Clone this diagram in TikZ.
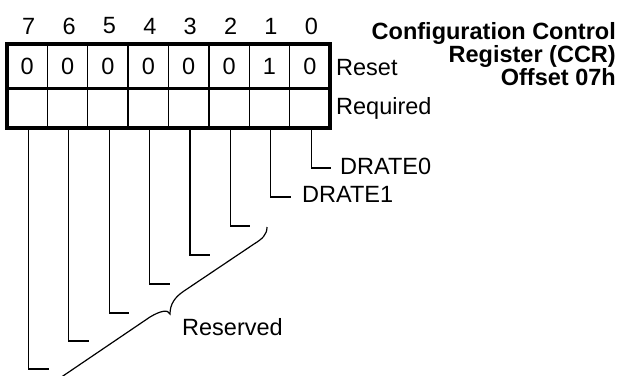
\documentclass[tikz,border=0pt]{standalone}
\usepackage{fontspec}
\setmainfont{Liberation Sans}
\begin{document}
\begin{tikzpicture}[x=1pt,y=-1pt,
  txt/.style={font=\fontsize{23.5}{26}\selectfont, inner sep=0pt},
  ttl/.style={font=\fontsize{23.5}{21.5}\bfseries\selectfont, inner sep=0pt, align=right},
  thickline/.style={line width=4pt},
  midline/.style={line width=3pt},
  thinline/.style={line width=1.4pt},
  leader/.style={line width=1.2pt},
  bracepath/.style={line width=1.2pt}]
\useasboundingbox (0,0) rectangle (621,375);
% cell dividers
\foreach \k in {1,...,7} {
  \coordinate (dt\k) at ({7+40.375*\k},44);
  \coordinate (db\k) at ({7+40.375*\k},128);
  \draw[thinline] (dt\k) -- (db\k);
}
\coordinate (ml) at (7,88);
\coordinate (mr) at (330,88);
\draw[midline] (ml) -- (mr);
\coordinate (boxtl) at (7,44);
\coordinate (boxbr) at (330,128);
\draw[thickline] (boxtl) rectangle (boxbr);
% bit numbers and reset values
\foreach \b/\v in {7/0,6/0,5/0,4/0,3/0,2/0,1/1,0/0} {
  \pgfmathsetmacro{\cx}{7+40.375*(7-\b)+20.2}
  \node[txt] (n\b) at (\cx+1.5,26) {\b};
  \node[txt] (v\b) at (\cx,66) {\v};
}
\node[txt, anchor=base west] (reset) at (336,75) {Reset};
\node[txt, anchor=base west] (req) at (336,114) {Required};
% title
\node[ttl, anchor=north east] (title) at (616,22) {Configuration Control\\Register (CCR)\\Offset 07h};
% leaders
\foreach \b/\yy in {0/168,1/197,2/226,3/255,4/284,5/313,6/341,7/369} {
  \pgfmathsetmacro{\cx}{7+40.375*(7-\b)+21.5}
  \coordinate (ls\b) at (\cx,128);
  \coordinate (lc\b) at (\cx,\yy);
  \coordinate (le\b) at (\cx+20,\yy);
  \draw[leader] (ls\b) -- (lc\b) -- (le\b);
}
\node[txt, anchor=west] (drate0) at (340,166) {DRATE0};
\node[txt, anchor=west] (drate1) at (302,194) {DRATE1};
\node[txt, anchor=base west] (reserved) at (182,335) {Reserved};
% brace
\coordinate (brtop) at (267,227);
\coordinate (brtip) at (170,314);
\coordinate (brbot) at (60,378);
\draw[bracepath] (brtop) .. controls (267,235) and (262,239) .. (254,244)
  -- (184,291) .. controls (175,297) and (170,304) .. (brtip)
  .. controls (168,309) and (160,311) .. (150,317) -- (brbot);
\end{tikzpicture}
\end{document}
